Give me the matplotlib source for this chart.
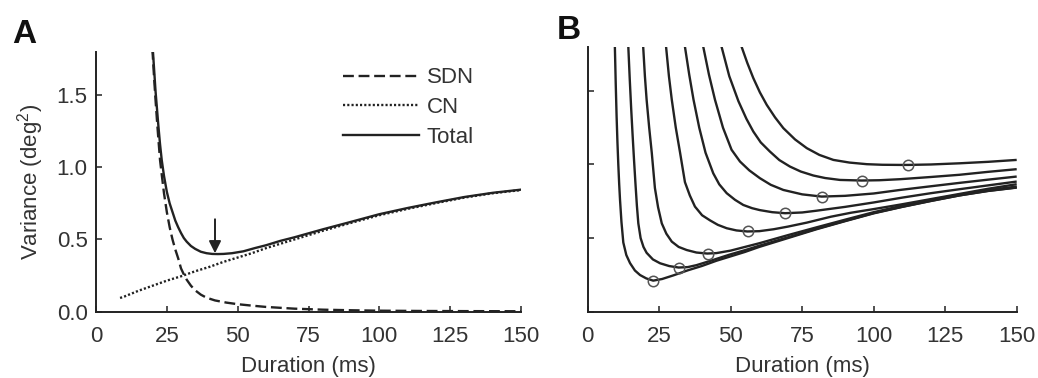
import matplotlib
matplotlib.use("Agg")
import matplotlib.pyplot as plt

# ---------------- data ----------------
# Panel A
a_sdn_x = [19.9, 20.5, 21, 21.5, 22, 22.6, 23.2, 24, 25, 26, 27, 28, 29, 30, 31, 32, 33.5, 35, 37, 39,
           42, 46, 50, 55, 60, 70, 80, 90, 100, 115, 130, 150]
a_sdn_y = [1.82, 1.62, 1.47, 1.33, 1.20, 1.05, 0.95, 0.82, 0.69, 0.585, 0.50, 0.43, 0.37, 0.30, 0.258, 0.222,
           0.18, 0.148, 0.118, 0.097, 0.078, 0.063, 0.052, 0.042, 0.033, 0.021, 0.014, 0.010, 0.007, 0.005,
           0.004, 0.003]

a_cn_x = [8.5, 10, 15, 20, 25, 30, 35, 40, 45, 50, 55, 60, 70, 80, 90, 100, 110, 120, 130, 140, 150]
a_cn_y = [0.095, 0.105, 0.145, 0.18, 0.215, 0.245, 0.28, 0.31, 0.345, 0.375, 0.405, 0.44, 0.50, 0.56,
          0.615, 0.668, 0.712, 0.752, 0.79, 0.82, 0.842]

a_total_x = [20.1, 20.5, 21, 21.5, 22, 22.6, 23.2, 24, 25, 26, 27, 28, 29, 30, 31, 32, 33.5, 35, 37, 39,
             41, 43, 45, 48, 52, 56, 60, 65, 70, 80, 90, 100, 110, 120, 130, 140, 150]
a_total_y = [1.80, 1.68, 1.53, 1.41, 1.29, 1.16, 1.05, 0.94, 0.83, 0.75, 0.69, 0.63, 0.585, 0.545, 0.51,
             0.485, 0.455, 0.435, 0.415, 0.405, 0.40, 0.399, 0.40, 0.405, 0.418, 0.44, 0.46, 0.49, 0.515,
             0.57, 0.622, 0.675, 0.718, 0.757, 0.794, 0.823, 0.845]

a_arrow_x = 42
a_arrow_y = [0.64, 0.405]

legend_labels = ["SDN", "CN", "Total"]

# Panel B: eight total-variance curves
b_x = [
    [9.5, 9.8, 10.1, 10.4, 10.7, 11.0, 11.3, 11.8, 12.45, 13.5, 14.8, 16.5, 18.3, 20.5, 22.9, 26, 30, 35,
     40, 45, 50, 55, 60, 70, 80, 90, 100, 110, 120, 130, 140, 150],
    [14.2, 14.7, 15.2, 15.7, 16.2, 16.7, 17.2, 17.7, 18.5, 19.5, 20.6, 22.8, 25.3, 28.5, 31.8, 35, 38, 42,
     46, 50, 55, 60, 70, 80, 90, 100, 110, 120, 130, 140, 150],
    [19.4, 20.0, 20.6, 21.5, 22.4, 23.5, 24.6, 25.9, 27.5, 29.4, 31.8, 34.6, 38, 41.8, 45, 50, 55, 60, 70,
     80, 90, 100, 110, 120, 130, 140, 150],
    [27.4, 28.4, 29.4, 30.8, 32.3, 34.0, 35.7, 37.5, 40, 42.8, 45.5, 48.6, 52, 55.8, 60, 65, 70, 76.6, 85,
     92, 100, 110, 120, 130, 140, 150],
    [34.0, 35.5, 37.0, 39.0, 41.2, 43.9, 46.0, 48.6, 51.5, 54.4, 57.5, 60.2, 64.5, 69.0, 75, 80, 90, 100,
     110, 120, 130, 140, 150],
    [40.4, 42.4, 44.5, 47.3, 50.3, 53.25, 56.5, 60.2, 64, 68.4, 75, 81.8, 90, 100, 109.2, 120, 130, 140, 150],
    [46.8, 49.5, 52.7, 55.5, 57.9, 60.5, 63.7, 67, 70.7, 74.5, 78.9, 83, 88.2, 95.8, 102, 109.2, 120, 130,
     140, 150],
    [53.8, 55.8, 57.9, 60.2, 62.6, 65.5, 68.4, 72.5, 76.6, 81, 85.9, 91.5, 97.6, 103, 109.2, 112, 120, 130,
     140, 150],
]
b_y = [
    [1.80, 1.55, 1.33, 1.15, 1.0, 0.87, 0.76, 0.61, 0.47, 0.385, 0.33, 0.28, 0.249, 0.226, 0.211, 0.222,
     0.247, 0.281, 0.311, 0.346, 0.376, 0.406, 0.44, 0.50, 0.56, 0.615, 0.668, 0.712, 0.752, 0.79, 0.82,
     0.843],
    [1.80, 1.58, 1.38, 1.20, 1.03, 0.87, 0.72, 0.60, 0.50, 0.44, 0.40, 0.355, 0.329, 0.31, 0.30, 0.303,
     0.316, 0.34, 0.365, 0.39, 0.418, 0.448, 0.505, 0.563, 0.617, 0.67, 0.713, 0.753, 0.79, 0.821, 0.844],
    [1.80, 1.60, 1.44, 1.25, 1.08, 0.84, 0.71, 0.60, 0.53, 0.476, 0.44, 0.419, 0.402, 0.395, 0.398, 0.415,
     0.44, 0.465, 0.52, 0.573, 0.625, 0.676, 0.72, 0.76, 0.795, 0.826, 0.85],
    [1.80, 1.60, 1.44, 1.25, 1.08, 0.88, 0.79, 0.714, 0.655, 0.62, 0.59, 0.567, 0.552, 0.545, 0.547, 0.56,
     0.578, 0.605, 0.645, 0.672, 0.697, 0.73, 0.765, 0.80, 0.835, 0.866],
    [1.80, 1.61, 1.44, 1.25, 1.08, 0.94, 0.865, 0.805, 0.76, 0.725, 0.703, 0.69, 0.676, 0.669, 0.674,
     0.686, 0.712, 0.742, 0.775, 0.805, 0.832, 0.858, 0.884],
    [1.80, 1.61, 1.44, 1.25, 1.10, 1.02, 0.96, 0.907, 0.862, 0.827, 0.797, 0.782, 0.787, 0.803, 0.827,
     0.852, 0.875, 0.897, 0.918],
    [1.80, 1.60, 1.43, 1.31, 1.224, 1.15, 1.088, 1.03, 0.986, 0.952, 0.925, 0.908, 0.895, 0.891, 0.893,
     0.90, 0.915, 0.93, 0.95, 0.968],
    [1.80, 1.69, 1.587, 1.49, 1.405, 1.32, 1.247, 1.17, 1.111, 1.065, 1.031, 1.013, 1.002, 0.998, 0.997,
     0.997, 1.0, 1.008, 1.018, 1.031],
]
b_min_x = [23, 32, 42, 56, 69, 82, 96, 112]
b_min_y = [0.211, 0.30, 0.395, 0.545, 0.669, 0.782, 0.891, 0.997]

x_ticks = [0, 25, 50, 75, 100, 125, 150]
y_ticks = [0.0, 0.5, 1.0, 1.5]
y_tick_labels = ["0.0", "0.5", "1.0", "1.5"]

# ---------------- style ----------------
plt.rcParams["font.family"] = ["Liberation Sans", "DejaVu Sans"]
plt.rcParams["mathtext.default"] = "regular"
FS = 16
INK = "#222222"
TXT = "#333333"

fig = plt.figure(figsize=(10.38, 3.78), dpi=100)
W, H = 1038, 378
axA = fig.add_axes([96 / W, 1 - 311.7 / H, 425 / W, 260 / H])
axB = fig.add_axes([587.7 / W, 1 - 311.7 / H, 429 / W, 265 / H])


def style(ax):
    for s in ["top", "right"]:
        ax.spines[s].set_visible(False)
    for s in ["left", "bottom"]:
        ax.spines[s].set_linewidth(1.4)
        ax.spines[s].set_color(INK)
    ax.set_xlim(0, 150)
    ax.set_ylim(0, 1.8)
    ax.set_xticks(x_ticks)
    ax.set_xticklabels([str(t) for t in x_ticks])
    ax.tick_params(axis="both", direction="in", length=4, width=1.1, color=INK,
                   labelsize=FS, labelcolor=TXT)
    ax.tick_params(axis="x", pad=10.5)
    ax.tick_params(axis="y", pad=6)
    ax.set_xlabel("Duration (ms)", fontsize=FS, color=TXT, labelpad=6)


style(axA)
style(axB)

lw = 1.7
axA.plot(a_sdn_x, a_sdn_y, color=INK, lw=lw, linestyle=(0, (4.6, 2.0)), label=legend_labels[0])
axA.plot(a_cn_x, a_cn_y, color=INK, lw=lw, linestyle=(0, (0.9, 0.9)), label=legend_labels[1])
axA.plot(a_total_x, a_total_y, color=INK, lw=lw, linestyle="-", label=legend_labels[2])
axA.annotate("", xy=(a_arrow_x, a_arrow_y[1]), xytext=(a_arrow_x, a_arrow_y[0]),
             arrowprops=dict(arrowstyle="-|>", color=INK, lw=1.4, mutation_scale=18,
                             shrinkA=0, shrinkB=0))
axA.set_yticks(y_ticks)
axA.set_yticklabels(y_tick_labels)
axA.set_ylabel("Variance (deg$^{2}$)", fontsize=FS, color=TXT, labelpad=8)
leg = axA.legend(loc="upper left", bbox_to_anchor=(0.58, 0.94), frameon=False, fontsize=FS,
                 handlelength=3.45, handletextpad=0.35, labelspacing=0.4, borderpad=0,
                 borderaxespad=0)
for t in leg.get_texts():
    t.set_color(TXT)

for xs, ys in zip(b_x, b_y):
    axB.plot(xs, ys, color=INK, lw=lw, solid_capstyle="butt")
axB.plot(b_min_x, b_min_y, linestyle="none", marker="o", markersize=7.5,
         markerfacecolor="none", markeredgecolor="#555555", markeredgewidth=1.1)
axB.set_yticks(y_ticks)
axB.set_yticklabels([])

fig.text(12 / W, 1 - 43 / H, "A", fontsize=24, fontweight="bold", color="#111111", va="baseline")
fig.text(557 / W, 1 - 39 / H, "B", fontsize=24, fontweight="bold", color="#111111", va="baseline")

fig.savefig("out.png", dpi=100)
